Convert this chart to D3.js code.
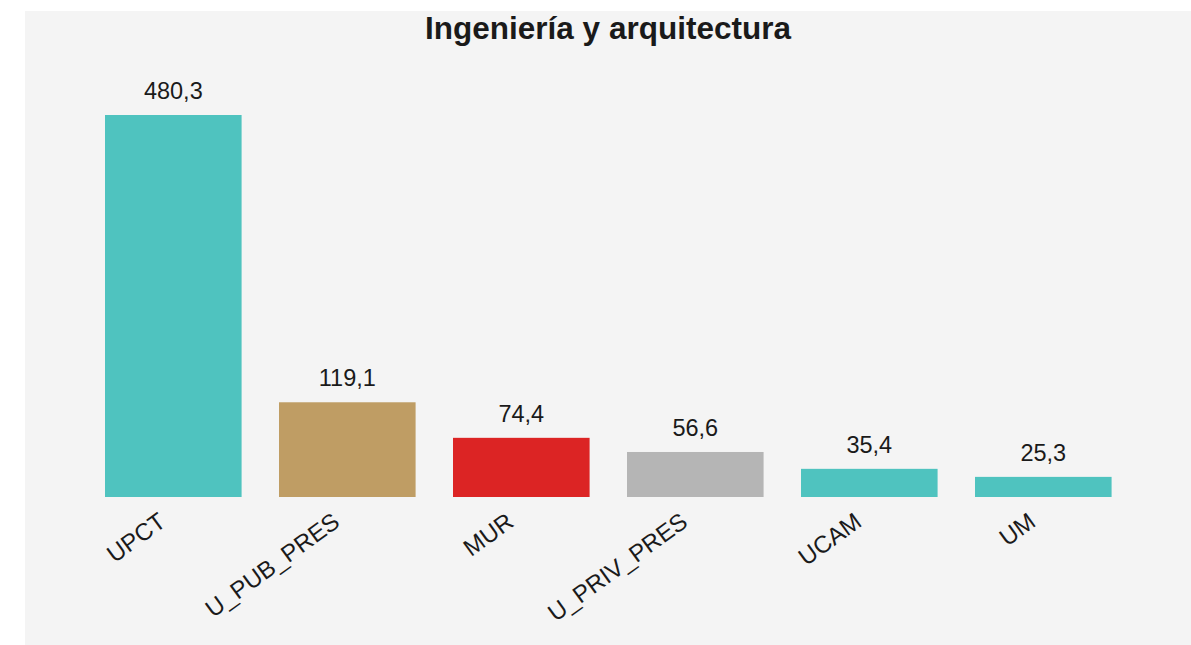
<!DOCTYPE html>
<html>
<head>
<meta charset="utf-8">
<script src="https://cdn.jsdelivr.net/npm/d3@7"></script>
<style>
  html, body { margin: 0; padding: 0; background: #ffffff; }
  svg { display: block; font-family: "Liberation Sans", Arial, sans-serif; }
</style>
</head>
<body>
<svg id="chart" width="1191" height="645"></svg>
<script>
const title = "Ingeniería y arquitectura";
const categories = ["UPCT", "U_PUB_PRES", "MUR", "U_PRIV_PRES", "UCAM", "UM"];
const values = [480.3, 119.1, 74.4, 56.6, 35.4, 25.3];
const colors = ["#4fc3bf", "#bf9d64", "#dc2424", "#b5b5b5", "#4fc3bf", "#4fc3bf"];

const svg = d3.select("#chart");
const W = 1191, H = 645;

svg.append("rect")
  .attr("x", 25).attr("y", 11)
  .attr("width", W - 25).attr("height", H - 11)
  .attr("fill", "#f4f4f4");

const x = d3.scaleBand()
  .domain(categories)
  .range([67.6, 1149])
  .padding(0.215);

const y = d3.scaleLinear()
  .domain([0, 480.3])
  .range([497, 115]);

const fmt = v => d3.format(".1f")(v).replace(".", ",");

svg.append("text")
  .attr("x", 608).attr("y", 39)
  .attr("text-anchor", "middle")
  .attr("font-size", 31.5)
  .attr("font-weight", "bold")
  .attr("fill", "#1a1a1a")
  .text(title);

const data = categories.map((c, i) => ({ c, v: values[i], col: colors[i] }));

svg.selectAll("rect.bar")
  .data(data)
  .join("rect")
  .attr("class", "bar")
  .attr("x", d => x(d.c))
  .attr("width", x.bandwidth())
  .attr("y", d => y(d.v))
  .attr("height", d => y(0) - y(d.v))
  .attr("fill", d => d.col);

svg.selectAll("text.val")
  .data(data)
  .join("text")
  .attr("class", "val")
  .attr("x", d => x(d.c) + x.bandwidth() / 2)
  .attr("y", d => y(d.v) - 16)
  .attr("text-anchor", "middle")
  .attr("font-size", 23.5)
  .attr("fill", "#1a1a1a")
  .text(d => fmt(d.v));

const xAxis = d3.axisBottom(x).tickSize(0).tickPadding(0);
const gx = svg.append("g")
  .attr("transform", `translate(0, ${y(0)})`)
  .call(xAxis);
gx.select(".domain").remove();
gx.selectAll(".tick text")
  .attr("font-family", "Liberation Sans, Arial, sans-serif")
  .attr("font-size", 24)
  .attr("fill", "#1a1a1a")
  .attr("text-anchor", "end")
  .attr("dy", 0)
  .attr("y", 0)
  .attr("transform", "translate(-6, 28) rotate(-36)");
</script>
</body>
</html>
